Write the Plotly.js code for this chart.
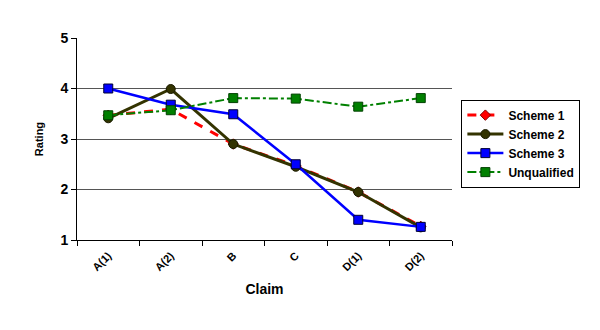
<!DOCTYPE html>
<html><head><meta charset="utf-8">
<script src="https://cdn.plot.ly/plotly-3.0.1.min.js"></script>
<style>html,body{margin:0;padding:0;background:#fff;}#chart{width:600px;height:330px;}</style>
</head><body><div id="chart"></div>
<script>
const categories = ["A(1)", "A(2)", "B", "C", "D(1)", "D(2)"];
const scheme1 = [3.47, 3.59, 2.90, 2.47, 1.95, 1.27];
const scheme2 = [3.41, 3.99, 2.90, 2.45, 1.95, 1.25];
const scheme3 = [4.00, 3.68, 3.49, 2.50, 1.40, 1.26];
const unqualified = [3.47, 3.57, 3.81, 3.80, 3.64, 3.81];
const yTicks = [1, 2, 3, 4, 5];

const traces = [
  {x: categories, y: scheme1, name: "Scheme 1", mode: "lines+markers",
   line: {color: "#ff0000", width: 3, dash: "dash"},
   marker: {symbol: "diamond", size: 8, color: "#ff0000", line: {color: "#800000", width: 1}}},
  {x: categories, y: scheme2, name: "Scheme 2", mode: "lines+markers",
   line: {color: "#333300", width: 3},
   marker: {symbol: "circle", size: 9, color: "#333300", line: {color: "#1a1a00", width: 1}}},
  {x: categories, y: scheme3, name: "Scheme 3", mode: "lines+markers",
   line: {color: "#0000ff", width: 2.5},
   marker: {symbol: "square", size: 9, color: "#0000ff", line: {color: "#000033", width: 1}}},
  {x: categories, y: unqualified, name: "Unqualified", mode: "lines+markers",
   line: {color: "#008000", width: 2, dash: "dashdot"},
   marker: {symbol: "square", size: 9, color: "#008000", line: {color: "#004000", width: 1}}}
];

const layout = {
  width: 600, height: 330,
  margin: {l: 77, r: 148, t: 38, b: 90},
  paper_bgcolor: "#fff", plot_bgcolor: "#fff",
  font: {family: "Liberation Sans, Arial, sans-serif", color: "#000"},
  showlegend: true,
  legend: {x: 1.025, y: 0.695, xanchor: "left", yanchor: "top",
    bordercolor: "#000", borderwidth: 1, bgcolor: "#fff",
    font: {size: 12, family: "Liberation Sans, Arial, sans-serif", weight: "bold"},
    tracegroupgap: 0, itemwidth: 36},
  xaxis: {type: "category", range: [-0.5, 5.5], tickson: "boundaries",
    ticks: "outside", ticklen: 5, tickcolor: "#000",
    showline: true, linecolor: "#000", linewidth: 1, showgrid: false,
    tickangle: -45, ticklabelstandoff: 4,
    tickfont: {size: 11, family: "Liberation Sans, Arial, sans-serif", weight: "bold"},
    title: {text: "Claim", font: {size: 14, weight: "bold"}, standoff: 12}},
  yaxis: {range: [1, 5], tickvals: yTicks, ticks: "outside", ticklen: 5, tickcolor: "#000",
    showline: true, linecolor: "#000", linewidth: 1,
    showgrid: true, gridcolor: "#555", gridwidth: 1, zeroline: false,
    tickfont: {size: 14, family: "Liberation Sans, Arial, sans-serif", weight: "bold"},
    title: {text: "Rating", font: {size: 11, weight: "bold"}, standoff: 14}}
};

Plotly.newPlot("chart", traces, layout, {displayModeBar: false, staticPlot: true});
</script></body></html>
